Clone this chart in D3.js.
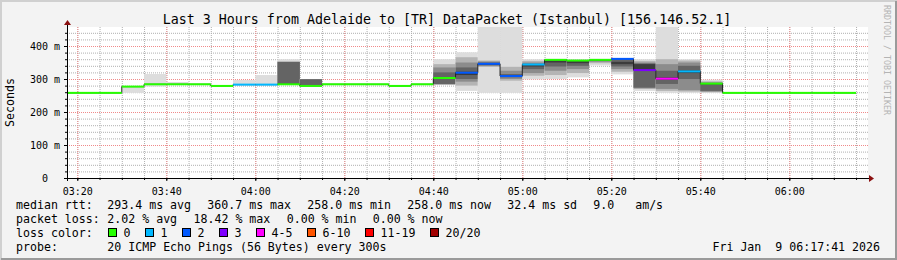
<!DOCTYPE html>
<html>
<head>
<meta charset="utf-8">
<script src="https://cdn.jsdelivr.net/npm/d3@7"></script>
<style>
  body { margin: 0; background: #f3f3f3; }
  svg text { font-family: "DejaVu Sans Mono", monospace; fill: #000; }
  .grid-minor line { stroke: #b0b0b0; stroke-dasharray: 1,1; }
  .grid-major line { stroke: #f08a8a; stroke-dasharray: 1,1; }
  .grid-minor path, .grid-major path { display: none; }
  .tick-axis path { display: none; }
  .tick-axis line { stroke: #000; }
</style>
</head>
<body>
<svg id="chart" width="897" height="260"></svg>
<script>
// 5 minute bins (start time), median rtt in ms, lost pings out of 20
const binStart = ["03:15","03:20","03:25","03:30","03:35","03:40","03:45","03:50","03:55",
  "04:00","04:05","04:10","04:15","04:20","04:25","04:30","04:35","04:40","04:45","04:50","04:55",
  "05:00","05:05","05:10","05:15","05:20","05:25","05:30","05:35","05:40","05:45","05:50","05:55",
  "06:00","06:05","06:10"];
const medianMs = [258,258,258,277,284,284,284,279,283,
  283,284,279,284,284,284,279,284,303,319,346,309,
  344,358,356,358,361,327,301,323,286,258,258,258,
  258,258,258];
const lossCount = [0,0,0,0,0,0,0,0,1,
  1,0,0,0,0,0,0,0,0,2,2,2,
  1,0,0,0,2,3,4,1,0,0,0,0,
  0,0,0];
// sorted ping rtts per bin (ms), drawn as smoke
const pingMs = [[],[],[],
  [258,276,276,277,277,277,277,277,277,278],
  [277,283,284,284,284,284,284,285,285,315],
  [283,284,284,284,284,284,284,284,285,291],
  [],[],
  [282,283,283,283,283,283,283,283,284,297],
  [282,283,283,283,283,283,283,284,285,312],
  [283,284,284,284,284,284,352,352,352,360],
  [278,279,279,279,279,279,299,300,300,300],
  [],[],[],[],[],
  [282,283,284,285,300,305,320,335,345,360],
  [264,280,292,300,312,322,335,350,366,381],
  [258,337,339,342,344,347,350,353,356,470],
  [258,295,300,305,308,311,315,325,337,470],
  [299,310,318,330,338,343,346,350,355,360],
  [300,312,325,338,350,356,358,359,360,361],
  [305,318,330,340,348,354,356,357,358,359],
  [341,348,352,355,357,358,359,359,360,361],
  [314,322,330,338,345,352,358,361,362,363],
  [264,270,272,274,328,345,347,350,355,360],
  [258,264,270,285,298,305,325,345,360,470],
  [258,262,266,300,318,326,340,350,356,360],
  [258,260,262,264,284,285,287,290,293,298],
  [],[],[],[],[],[]];

const lossLabels = ["0","1","2","3","4-5","6-10","11-19","20/20"];
const lossUpper = [0,1,2,3,5,10,19,20];
const lossColors = ["#26ff00","#00b8ff","#0059ff","#7e00ff","#ff00ff","#ff5500","#ff0000","#a10000"];
const smokeShades = ["#dddddd","#b4b4b4","#8c8c8c","#646464","#3c3c3c"];

const yTicks = [0,100,200,300,400];
const titleText = "Last 3 Hours from Adelaide to [TR] DataPacket (Istanbul) [156.146.52.1]";
const statsRtt = [["293.4 ms avg",107.3],["360.7 ms max",207.3],["258.0 ms min",307.3],
  ["258.0 ms now",407.3],["32.4 ms sd",507.3],["9.0   am/s",593.3]];
const statsLoss = [["2.02 % avg",107.3],["18.42 % max",193.5],["0.00 % min",286.7],["0.00 % now",372.7]];
const probeText = "20 ICMP Echo Pings (56 Bytes) every 300s";
const stampText = "Fri Jan  9 06:17:41 2026";

const W = 897, H = 260;
const plot = {left: 67, right: 868, top: 27, bottom: 178};

const svg = d3.select('#chart');
const toDate = s => { const [h, m] = s.split(':').map(Number); return new Date(2026, 0, 9, h, m, 0); };
const bins = binStart.map((s, i) => {
  const t0 = toDate(s);
  return {t0: t0, t1: new Date(+t0 + 300000), median: medianMs[i], loss: lossCount[i], pings: pingMs[i]};
});

// frame
svg.append('rect').attr('width', W).attr('height', H).attr('fill', '#f3f3f3');
svg.append('path').attr('d', `M1,${H} V1 H${W}`).attr('stroke', '#d0d0d0').attr('stroke-width', 2).attr('fill', 'none');
svg.append('path').attr('d', `M1,${H - 1} H${W - 1} V1`).attr('stroke', '#9a9a9a').attr('stroke-width', 2).attr('fill', 'none');

const x = d3.scaleTime()
  .domain([new Date(2026, 0, 9, 3, 17, 41), new Date(2026, 0, 9, 6, 17, 41)])
  .range([plot.left, plot.right]);
const y = d3.scaleLinear().domain([0, 457.6]).range([plot.bottom, plot.top]);

svg.append('rect').attr('x', plot.left).attr('y', plot.top)
  .attr('width', plot.right - plot.left).attr('height', plot.bottom - plot.top).attr('fill', '#ffffff');

svg.append('clipPath').attr('id', 'clip').append('rect')
  .attr('x', plot.left).attr('y', plot.top).attr('width', plot.right - plot.left).attr('height', plot.bottom - plot.top);

// grid
const ph = plot.bottom - plot.top, pw = plot.right - plot.left;
svg.append('g').attr('class', 'grid-minor').attr('transform', `translate(0,${plot.bottom})`)
  .call(d3.axisBottom(x).ticks(d3.timeMinute.every(5)).tickSize(-ph).tickFormat(''));
svg.append('g').attr('class', 'grid-minor').attr('transform', `translate(${plot.left},0)`)
  .call(d3.axisLeft(y).tickValues(d3.range(20, 457, 20)).tickSize(-pw).tickFormat(''));
svg.append('g').attr('class', 'grid-major').attr('transform', `translate(0,${plot.bottom})`)
  .call(d3.axisBottom(x).ticks(d3.timeMinute.every(20)).tickSize(-ph).tickFormat(''));
svg.append('g').attr('class', 'grid-major').attr('transform', `translate(${plot.left},0)`)
  .call(d3.axisLeft(y).tickValues(yTicks.slice(1)).tickSize(-pw).tickFormat(''));

const chart = svg.append('g').attr('clip-path', 'url(#clip)');

// smoke
bins.forEach(b => {
  const n = b.pings.length;
  for (let i = 0; i < n / 2; i++) {
    const lo = b.pings[i], hi = b.pings[n - 1 - i];
    if (hi <= lo) continue;
    chart.append('rect')
      .attr('x', x(b.t0)).attr('width', x(b.t1) - x(b.t0))
      .attr('y', y(hi)).attr('height', y(lo) - y(hi))
      .attr('fill', smokeShades[i]);
  }
});

// median step line, dark connectors then loss coloured segments
const pts = bins.map(b => [x(b.t0), y(b.median)]);
pts.push([x(bins[bins.length - 1].t1), y(bins[bins.length - 1].median)]);
chart.append('path')
  .attr('d', d3.line().curve(d3.curveStepAfter)(pts))
  .attr('fill', 'none').attr('stroke', '#222').attr('stroke-width', 1);

const lossColor = l => lossColors[lossUpper.findIndex(u => l <= u)];
chart.selectAll('.median').data(bins).join('line')
  .attr('class', 'median')
  .attr('x1', d => x(d.t0)).attr('x2', d => x(d.t1))
  .attr('y1', d => y(d.median)).attr('y2', d => y(d.median))
  .attr('stroke', d => lossColor(d.loss)).attr('stroke-width', 2);

// tick marks and labels
const xAxis = svg.append('g').attr('class', 'tick-axis').attr('transform', `translate(0,${plot.bottom})`)
  .call(d3.axisBottom(x).ticks(d3.timeMinute.every(20)).tickSize(3).tickPadding(4)
    .tickFormat(d3.timeFormat('%H:%M')));
xAxis.selectAll('text').attr('font-size', '10px').attr('dy', '0.95em');
svg.append('g').attr('class', 'tick-axis').attr('transform', `translate(0,${plot.bottom})`)
  .call(d3.axisBottom(x).ticks(d3.timeMinute.every(5)).tickSize(2).tickFormat(''));
svg.append('g').attr('class', 'tick-axis').attr('transform', `translate(${plot.left},0)`)
  .call(d3.axisLeft(y).tickValues(d3.range(20, 457, 20)).tickSize(2).tickFormat(''));
const yAxis = svg.append('g').attr('class', 'tick-axis').attr('transform', `translate(${plot.left},0)`)
  .call(d3.axisLeft(y).tickValues(yTicks).tickSize(3).tickPadding(4)
    .tickFormat(d => d === 0 ? '0' : d + ' m'));
yAxis.selectAll('text').attr('font-size', '10px')
  .attr('dx', d => d === 0 ? -12 : 0);

// axis lines with arrows
svg.append('line').attr('x1', plot.left - 3).attr('x2', plot.right + 2)
  .attr('y1', plot.bottom + 0.5).attr('y2', plot.bottom + 0.5).attr('stroke', '#000');
svg.append('line').attr('x1', plot.left + 0.5).attr('x2', plot.left + 0.5)
  .attr('y1', plot.bottom + 3).attr('y2', plot.top - 4).attr('stroke', '#000');
svg.append('path').attr('d', `M${plot.right + 1},${plot.bottom - 3} L${plot.right + 6},${plot.bottom + 0.5} L${plot.right + 1},${plot.bottom + 4} Z`)
  .attr('fill', '#8b1010');
svg.append('path').attr('d', `M${plot.left - 3},${plot.top - 2} L${plot.left + 0.5},${plot.top - 7} L${plot.left + 4},${plot.top - 2} Z`)
  .attr('fill', '#8b1010');

// titles
svg.append('text').attr('x', 447).attr('y', 24).attr('text-anchor', 'middle')
  .attr('font-size', '13.3px').text(titleText);
svg.append('text').attr('transform', `translate(14,102.5) rotate(-90)`)
  .attr('text-anchor', 'middle').attr('font-size', '11.6px').text('Seconds');
svg.append('text').attr('transform', 'translate(884,5) rotate(90)')
  .attr('font-size', '8.3px').style('fill', '#b4b4b4').text('RRDTOOL / TOBI OETIKER');

// legend
const legend = svg.append('g').attr('font-size', '11.6px');
const rowY = [208.5, 222.5, 236.5, 250.5];
legend.append('text').attr('x', 16).attr('y', rowY[0]).text('median rtt:');
statsRtt.forEach(([t, px]) => legend.append('text').attr('x', px).attr('y', rowY[0]).attr('xml:space', 'preserve').text(t));
legend.append('text').attr('x', 16).attr('y', rowY[1]).text('packet loss:');
statsLoss.forEach(([t, px]) => legend.append('text').attr('x', px).attr('y', rowY[1]).text(t));
legend.append('text').attr('x', 16).attr('y', rowY[2]).text('loss color:');
let lx = 108.5;
lossLabels.forEach((l, i) => {
  legend.append('rect').attr('x', lx).attr('y', rowY[2] - 8).attr('width', 8).attr('height', 8)
    .attr('fill', lossColors[i]).attr('stroke', '#000').attr('stroke-width', 1);
  legend.append('text').attr('x', lx + 15).attr('y', rowY[2]).text(l);
  lx += 30 + 7 * l.length;
});
legend.append('text').attr('x', 16).attr('y', rowY[3]).text('probe:');
legend.append('text').attr('x', 107.3).attr('y', rowY[3]).text(probeText);
legend.append('text').attr('x', 880).attr('y', rowY[3]).attr('text-anchor', 'end')
  .attr('xml:space', 'preserve').text(stampText);
</script>
</body>
</html>
